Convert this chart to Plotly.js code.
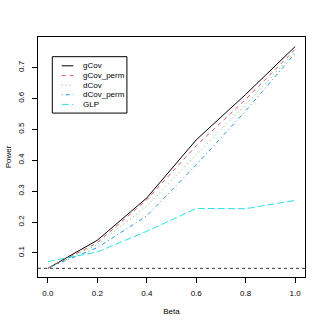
<!DOCTYPE html>
<html>
<head>
<meta charset="utf-8">
<script src="https://cdn.plot.ly/plotly-3.0.1.min.js"></script>
<style>html,body{margin:0;padding:0;background:#fff}#chart{width:325px;height:325px}</style>
</head>
<body>
<div id="chart"></div>
<script>
const beta = [0, 0.2, 0.4, 0.6, 0.8, 1.0];
const gCov = [0.050, 0.141, 0.278, 0.466, 0.613, 0.768];
const gCov_perm = [0.050, 0.133, 0.272, 0.447, 0.597, 0.759];
const dCov = [0.050, 0.127, 0.251, 0.418, 0.580, 0.752];
const dCov_perm = [0.052, 0.117, 0.220, 0.385, 0.560, 0.746];
const GLP = [0.072, 0.103, 0.170, 0.244, 0.243, 0.270];
const seriesNames = ["gCov", "gCov_perm", "dCov", "dCov_perm", "GLP"];
const seriesValues = [gCov, gCov_perm, dCov, dCov_perm, GLP];
const seriesColors = ["#000000", "#DF536B", "#61D04F", "#2297E6", "#28E2E5"];
const seriesDash = ["solid", "4px,4px", "1px,3px", "1px,3px,4px,3px", "7px,3px"];
const nominalLevel = 0.05;
const xTicks = [0, 0.2, 0.4, 0.6, 0.8, 1.0];
const xTickText = ["0.0", "0.2", "0.4", "0.6", "0.8", "1.0"];
const yTicks = [0.1, 0.2, 0.3, 0.4, 0.5, 0.6, 0.7];
const yTickText = ["0.1", "0.2", "0.3", "0.4", "0.5", "0.6", "0.7"];

const font = {family: "Liberation Sans, Arial, sans-serif", size: 8, color: "#000"};

const traces = seriesNames.map((n, i) => ({
  x: beta, y: seriesValues[i], name: n, type: "scatter", mode: "lines",
  line: {color: seriesColors[i], width: 1, dash: seriesDash[i]},
  showlegend: false
}));

// legend drawn manually (R-style compact legend)
const lgX0 = 0.0536, lgX1 = 0.333, lgY0 = 0.683, lgY1 = 0.918;
const rowTop = 0.880, rowStep = 0.0402;
const shapes = [
  {type: "line", xref: "paper", yref: "y", x0: 0, x1: 1, y0: nominalLevel, y1: nominalLevel,
   line: {color: "#333", width: 1, dash: "3px,3px"}},
  {type: "rect", xref: "paper", yref: "paper", x0: lgX0, x1: lgX1, y0: lgY0, y1: lgY1,
   line: {color: "#000", width: 1}, fillcolor: "rgba(0,0,0,0)"}
];
const annotations = [];
seriesNames.forEach((n, i) => {
  const yy = rowTop - i * rowStep;
  shapes.push({type: "line", xref: "paper", yref: "paper", x0: 0.0888, x1: 0.1322, y0: yy, y1: yy,
    line: {color: seriesColors[i], width: 1, dash: seriesDash[i]}});
  annotations.push({xref: "paper", yref: "paper", x: 0.1599, y: yy, text: n, showarrow: false,
    xanchor: "left", yanchor: "middle", font: font});
});

const layout = {
  width: 325, height: 325,
  margin: {l: 38, r: 20, t: 37, b: 48, pad: 0},
  paper_bgcolor: "#fff", plot_bgcolor: "#fff",
  font: font,
  showlegend: false,
  xaxis: {
    range: [-0.04, 1.04], tickvals: xTicks, ticktext: xTickText,
    ticks: "outside", ticklen: 5, tickwidth: 1, tickcolor: "#000",
    showline: true, mirror: true, linecolor: "#000", linewidth: 1,
    showgrid: false, zeroline: false, tickfont: font, ticklabelstandoff: 3,
    title: {text: "Beta", font: font, standoff: 11}
  },
  yaxis: {
    range: [0.022, 0.799], tickvals: yTicks, ticktext: yTickText,
    ticks: "outside", ticklen: 5, tickwidth: 1, tickcolor: "#000",
    showline: true, mirror: true, linecolor: "#000", linewidth: 1,
    showgrid: false, zeroline: false, tickfont: font, tickangle: -90, ticklabelstandoff: 5,
    title: {text: "Power", font: font, standoff: 3}
  },
  shapes: shapes,
  annotations: annotations
};

Plotly.newPlot("chart", traces, layout, {staticPlot: true, displayModeBar: false});
</script>
</body>
</html>
